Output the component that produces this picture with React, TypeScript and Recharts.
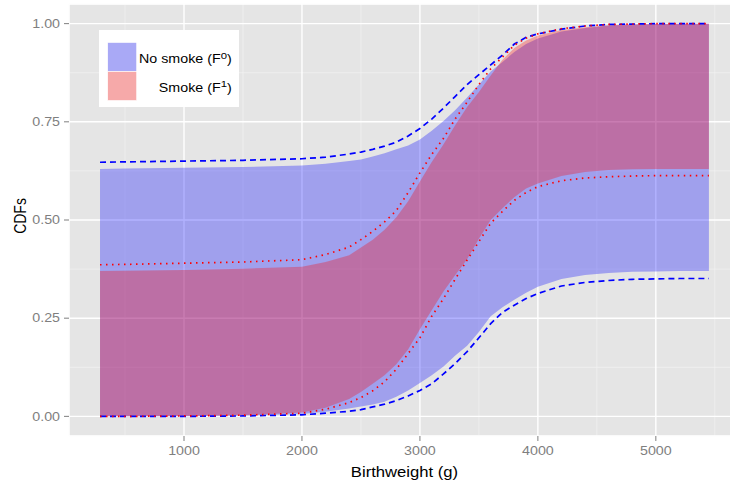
import React from 'react';
import {
  ComposedChart,
  Area,
  Line,
  XAxis,
  YAxis,
  CartesianGrid,
  Legend,
  Label,
} from 'recharts';

// ---------- data ----------
const birthweights = [
  288, 500, 1000, 1500, 2000, 2200, 2400, 2500, 2600, 2700, 2800, 2900, 3000, 3100, 3200,
  3300, 3400, 3500, 3600, 3700, 3800, 3900, 4000, 4200, 4400, 4600, 4800, 5000, 5200, 5450,
];

// No smoke (F0) band
const noSmokeLow = [
  0, 0, 0, 0.002, 0.006, 0.012, 0.02, 0.025, 0.03, 0.037, 0.05, 0.066, 0.085, 0.105, 0.127,
  0.155, 0.18, 0.215, 0.255, 0.278, 0.297, 0.315, 0.33, 0.35, 0.36, 0.365, 0.368, 0.369, 0.37, 0.37,
];
const noSmokeHigh = [
  0.63, 0.631, 0.633, 0.635, 0.639, 0.643, 0.65, 0.654, 0.662, 0.67, 0.68, 0.69, 0.705, 0.727, 0.752,
  0.78, 0.812, 0.845, 0.878, 0.902, 0.928, 0.948, 0.962, 0.98, 0.989, 0.995, 0.998, 0.999, 1, 1,
];
// Smoke (F1) band
const smokeLow = [
  0, 0, 0.001, 0.003, 0.01, 0.022, 0.044, 0.062, 0.083, 0.105, 0.133, 0.17, 0.222, 0.27, 0.318,
  0.36, 0.4, 0.452, 0.5, 0.53, 0.558, 0.58, 0.593, 0.612, 0.622, 0.627, 0.629, 0.63, 0.63, 0.63,
];
const smokeHigh = [
  0.37, 0.371, 0.373, 0.376, 0.381, 0.393, 0.41, 0.43, 0.45, 0.475, 0.507, 0.548, 0.598, 0.648, 0.693,
  0.742, 0.788, 0.826, 0.868, 0.908, 0.938, 0.957, 0.97, 0.984, 0.991, 0.996, 0.998, 0.999, 1, 1,
];
// outer bounds (dashed blue)
const noSmokeUpperBound = [
  0.647, 0.648, 0.65, 0.652, 0.656, 0.66, 0.668, 0.673, 0.68, 0.688, 0.698, 0.714, 0.733, 0.757, 0.785,
  0.815, 0.845, 0.87, 0.895, 0.92, 0.948, 0.965, 0.974, 0.986, 0.994, 0.998, 0.999, 1, 1, 1,
];
const noSmokeLowerBound = [
  0, 0, 0, 0.001, 0.004, 0.008, 0.013, 0.017, 0.024, 0.031, 0.04, 0.052, 0.066, 0.083, 0.108,
  0.135, 0.165, 0.2, 0.236, 0.265, 0.283, 0.3, 0.313, 0.332, 0.341, 0.346, 0.349, 0.35, 0.351, 0.351,
];
// outer bounds (dotted red)
const smokeUpperBound = [
  0.386, 0.387, 0.39, 0.393, 0.399, 0.412, 0.431, 0.45, 0.471, 0.495, 0.524, 0.57, 0.62, 0.667, 0.708,
  0.758, 0.8, 0.845, 0.885, 0.915, 0.945, 0.963, 0.974, 0.987, 0.994, 0.998, 0.999, 1, 1, 1,
];
const smokeLowerBound = [
  0, 0, 0.001, 0.003, 0.008, 0.018, 0.035, 0.048, 0.065, 0.088, 0.12, 0.16, 0.2, 0.255, 0.3,
  0.35, 0.398, 0.445, 0.492, 0.522, 0.55, 0.57, 0.585, 0.6, 0.607, 0.61, 0.612, 0.613, 0.613, 0.613,
];

const xMajorTicks = [1000, 2000, 3000, 4000, 5000];
const xMinorTicks = [500, 1500, 2500, 3500, 4500, 5500];
const yMajorTicks = [0, 0.25, 0.5, 0.75, 1];
const yMinorTicks = [0.125, 0.375, 0.625, 0.875];

const legendLabels = ['No smoke (F', 'Smoke (F'];
const legendSup = ['0', '1'];
const legendKeyColors = ['#A9A9F6', '#F6A9A9'];

const xTitle = 'Birthweight (g)';
const yTitle = 'CDFs';

const X_DOMAIN: [number, number] = [25, 5705];
const Y_DOMAIN: [number, number] = [-0.05, 1.05];

const FONT = '"Liberation Sans", Arial, Helvetica, sans-serif';
const SX = 1.19; // horizontal stretch of the reference text

const data = birthweights.map((x, i) => ({
  x,
  noSmoke: [noSmokeLow[i], noSmokeHigh[i]],
  smoke: [smokeLow[i], smokeHigh[i]],
  noSmokeUpper: noSmokeUpperBound[i],
  noSmokeLower: noSmokeLowerBound[i],
  smokeUpper: smokeUpperBound[i],
  smokeLower: smokeLowerBound[i],
}));

const XTick = (props: any) => {
  const { x, y, payload } = props;
  return (
    <text
      transform={`translate(${x},${y}) scale(${SX},1)`}
      x={0}
      y={0}
      dy="0.71em"
      textAnchor="middle"
      fontSize={12}
      fontFamily={FONT}
      fill="#7F7F7F"
    >
      {payload.value}
    </text>
  );
};

const YTick = (props: any) => {
  const { x, y, payload } = props;
  return (
    <text
      transform={`translate(${x},${y}) scale(${SX},1)`}
      x={0}
      y={0}
      dy="0.355em"
      textAnchor="end"
      fontSize={12}
      fontFamily={FONT}
      fill="#7F7F7F"
    >
      {Number(payload.value).toFixed(2)}
    </text>
  );
};

const XTitle = () => (
  <text
    transform={`translate(404.5,476.5) scale(${SX},1)`}
    x={0}
    y={0}
    textAnchor="middle"
    fontSize={14}
    fontFamily={FONT}
    fill="#000"
  >
    {xTitle}
  </text>
);

const YTitle = () => (
  <text
    transform={`translate(20.5,216) scale(${SX},1) rotate(-90)`}
    x={0}
    y={0}
    dy="0.355em"
    textAnchor="middle"
    fontSize={14}
    fontFamily={FONT}
    fill="#000"
  >
    {yTitle}
  </text>
);

const LegendBox = () => (
  <svg width={140} height={77} style={{ display: 'block' }}>
    <rect x={0} y={0} width={140} height={77} fill="#FFFFFF" />
    {legendLabels.map((lab, i) => (
      <g key={lab}>
        <rect x={8.7} y={12.5 + i * 29} width={29} height={29} fill={legendKeyColors[i]} stroke="#FFFFFF" strokeWidth={0.6} />
        <text
          transform={`translate(132.7,${33.3 + i * 28.4}) scale(${SX},1)`}
          x={0}
          y={0}
          textAnchor="end"
          fontSize={12}
          fontFamily={FONT}
          fill="#000"
        >
          {lab}
          <tspan dy={-4.5} fontSize={9.5}>{legendSup[i]}</tspan>
          <tspan dy={4.5} fontSize={12}>)</tspan>
        </text>
      </g>
    ))}
  </svg>
);

export default function App() {
  return (
    <div style={{ position: 'absolute', left: 0, top: 0, width: 730, height: 487, overflow: 'hidden', background: '#fff' }}>
      <ComposedChart
        width={745}
        height={487}
        data={data}
        margin={{ top: 4, right: 6, bottom: 0, left: 0 }}
      >
        <XAxis
          xAxisId="major"
          dataKey="x"
          type="number"
          domain={X_DOMAIN}
          allowDataOverflow
          ticks={xMajorTicks}
          interval={0}
          axisLine={false}
          tickLine={{ stroke: '#7F7F7F', strokeWidth: 1 }}
          tickSize={5}
          tickMargin={5}
          height={51}
          tick={XTick}
        >
          <Label content={XTitle} />
        </XAxis>
        <XAxis
          xAxisId="minor"
          dataKey="x"
          type="number"
          domain={X_DOMAIN}
          allowDataOverflow
          ticks={xMinorTicks}
          interval={0}
          hide
        />
        <YAxis
          yAxisId="major"
          type="number"
          domain={Y_DOMAIN}
          allowDataOverflow
          ticks={yMajorTicks}
          interval={0}
          axisLine={false}
          tickLine={{ stroke: '#7F7F7F', strokeWidth: 1 }}
          tickSize={5}
          tickMargin={4}
          width={69}
          tick={YTick}
        >
          <Label content={YTitle} />
        </YAxis>
        <YAxis
          yAxisId="minor"
          type="number"
          domain={Y_DOMAIN}
          allowDataOverflow
          ticks={yMinorTicks}
          interval={0}
          hide
        />
        <CartesianGrid
          xAxisId="minor"
          yAxisId="minor"
          fill="#E5E5E5"
          fillOpacity={1}
          stroke="#F2F2F2"
          strokeWidth={0.7}
        />
        <CartesianGrid xAxisId="major" yAxisId="major" stroke="#FFFFFF" strokeWidth={1.4} />

        <Area
          xAxisId="major"
          yAxisId="major"
          type="linear"
          dataKey="noSmoke"
          fill="#0000FF"
          fillOpacity={0.3}
          stroke="none"
          isAnimationActive={false}
          dot={false}
          activeDot={false}
          legendType="none"
        />
        <Area
          xAxisId="major"
          yAxisId="major"
          type="linear"
          dataKey="smoke"
          fill="#FF0000"
          fillOpacity={0.3}
          stroke="none"
          isAnimationActive={false}
          dot={false}
          activeDot={false}
          legendType="none"
        />
        <Line
          xAxisId="major"
          yAxisId="major"
          type="linear"
          dataKey="noSmokeUpper"
          stroke="#0000FF"
          strokeWidth={1.7}
          strokeDasharray="6 4"
          dot={false}
          activeDot={false}
          isAnimationActive={false}
          legendType="none"
        />
        <Line
          xAxisId="major"
          yAxisId="major"
          type="linear"
          dataKey="noSmokeLower"
          stroke="#0000FF"
          strokeWidth={1.7}
          strokeDasharray="6 4"
          dot={false}
          activeDot={false}
          isAnimationActive={false}
          legendType="none"
        />
        <Line
          xAxisId="major"
          yAxisId="major"
          type="linear"
          dataKey="smokeUpper"
          stroke="#FF0000"
          strokeWidth={1.7}
          strokeDasharray="1.5 4.5"
          dot={false}
          activeDot={false}
          isAnimationActive={false}
          legendType="none"
        />
        <Line
          xAxisId="major"
          yAxisId="major"
          type="linear"
          dataKey="smokeLower"
          stroke="#FF0000"
          strokeWidth={1.7}
          strokeDasharray="1.5 4.5"
          dot={false}
          activeDot={false}
          isAnimationActive={false}
          legendType="none"
        />
        <Legend
          layout="vertical"
          align="center"
          verticalAlign="middle"
          content={LegendBox}
          wrapperStyle={{ left: 99, top: 30, width: 140, height: 77 }}
        />
      </ComposedChart>
    </div>
  );
}
